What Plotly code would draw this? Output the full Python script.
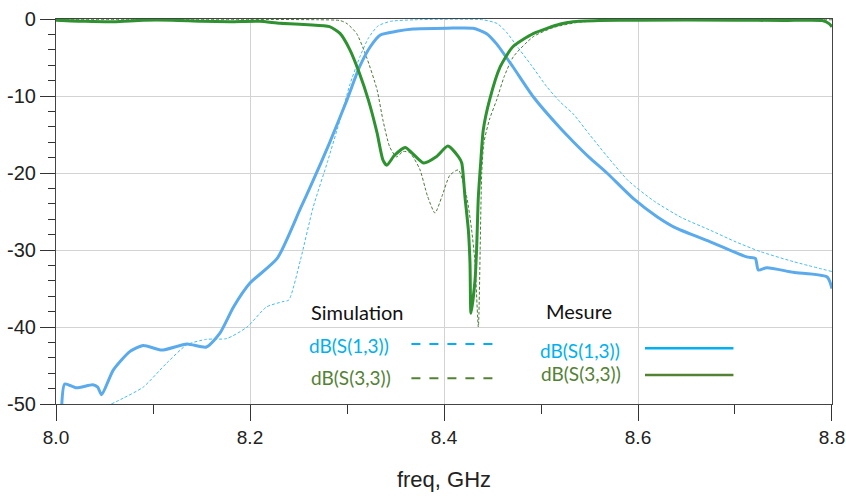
import plotly.graph_objects as go

# ---------------- data ----------------
meas_s13_f = [8.006, 8.009, 8.021, 8.038, 8.043, 8.047, 8.059, 8.076, 8.090, 8.109, 8.135, 8.155,
              8.169, 8.183, 8.200, 8.228, 8.252, 8.265, 8.282, 8.300, 8.313, 8.324, 8.334, 8.351,
              8.368, 8.403, 8.430, 8.444, 8.454, 8.471, 8.492, 8.520, 8.533, 8.550, 8.568, 8.595,
              8.620, 8.640, 8.674, 8.712, 8.721, 8.724, 8.733, 8.760, 8.795, 8.800]
meas_s13_db = [-50.0, -47.4, -47.9, -47.5, -47.8, -48.8, -45.6, -43.2, -42.4, -43.0, -42.2, -42.6,
               -40.8, -37.4, -34.3, -31.1, -24.6, -21.0, -16.1, -10.5, -6.2, -3.6, -2.1, -1.6,
               -1.3, -1.2, -1.2, -1.9, -3.2, -6.2, -10.1, -14.2, -15.9, -18.0, -20.0, -23.3,
               -25.7, -27.2, -28.9, -30.9, -31.1, -32.6, -32.3, -32.9, -33.5, -35.0]

sim_s13_f = [8.057, 8.070, 8.090, 8.114, 8.135, 8.155, 8.176, 8.197, 8.217, 8.234, 8.240, 8.252,
             8.265, 8.280, 8.293, 8.303, 8.313, 8.322, 8.332, 8.345, 8.370, 8.440, 8.455, 8.465,
             8.475, 8.490, 8.506, 8.520, 8.533, 8.550, 8.568, 8.590, 8.616, 8.645, 8.674, 8.700,
             8.726, 8.760, 8.800]
sim_s13_db = [-50.0, -49.2, -47.8, -44.7, -42.3, -41.6, -41.5, -40.0, -37.4, -36.7, -36.5, -31.3,
              -24.5, -18.5, -13.0, -8.5, -5.0, -2.5, -0.9, -0.3, -0.1, -0.1, -0.6, -1.8,
              -3.5, -6.0, -8.8, -10.8, -12.3, -15.0, -17.8, -21.0, -23.6, -25.8, -27.4, -28.9,
              -30.2, -31.5, -32.8]

meas_s33_f = [8.000, 8.030, 8.060, 8.090, 8.120, 8.150, 8.180, 8.210, 8.231, 8.260, 8.282, 8.293,
              8.303, 8.313, 8.322, 8.331, 8.337, 8.341, 8.349, 8.360, 8.367, 8.379, 8.392, 8.404,
              8.415, 8.4183, 8.4216, 8.4251, 8.4268, 8.4278, 8.4320, 8.4337, 8.4354, 8.4378,
              8.4405, 8.447, 8.458, 8.471, 8.492, 8.520, 8.533, 8.560, 8.600, 8.700, 8.750,
              8.790, 8.797, 8.800]
meas_s33_db = [-0.15, -0.3, -0.35, -0.15, -0.15, -0.3, -0.35, -0.3, -0.56, -0.75, -1.0, -1.9,
               -4.0, -7.1, -10.5, -14.8, -18.3, -19.0, -17.7, -16.7, -17.4, -18.7, -17.9, -16.5,
               -17.9, -18.7, -23.1, -27.4, -31.7, -38.2, -33.9, -29.6, -23.1, -18.7,
               -14.4, -10.5, -6.2, -3.6, -1.9, -0.65, -0.35, -0.2, -0.15, -0.15, -0.2,
               -0.2, -0.6, -1.0]

sim_s33_f = [8.000, 8.200, 8.270, 8.293, 8.300, 8.310, 8.320, 8.331, 8.337, 8.344, 8.351, 8.358,
             8.365, 8.375, 8.383, 8.3907, 8.398, 8.406, 8.4148, 8.4234, 8.4285, 8.432, 8.4354,
             8.4389, 8.4412, 8.447, 8.4543, 8.462, 8.4715, 8.492, 8.513, 8.540, 8.580, 8.800]
sim_s33_db = [-0.05, -0.05, -0.1, -0.2, -0.6, -1.9, -4.9, -9.2, -13.1, -16.6, -17.9, -17.2,
              -17.4, -19.5, -23.0, -25.2, -23.0, -20.3, -19.6, -23.1, -27.4, -31.7, -40.0,
              -20.0, -16.0, -13.0, -10.5, -7.5, -4.9, -2.3, -1.1, -0.4, -0.15, -0.1]

x_tickvals = [8.0, 8.2, 8.4, 8.6, 8.8]
x_ticktext = ["8.0", "8.2", "8.4", "8.6", "8.8"]
y_tickvals = [0, -10, -20, -30, -40, -50]
y_ticktext = ["0", "-10", "-20", "-30", "-40", "-50"]

# ---------------- styles ----------------
C_MEAS13 = "#5AAAEC"
C_SIM13 = "#45BDEE"
C_MEAS33 = "#2F9230"
C_SIM33 = "#4B7A3A"
C_TXT13 = "#00B0F0"
C_TXT33 = "#548235"

fig = go.Figure()
fig.add_trace(go.Scatter(x=sim_s13_f, y=sim_s13_db, mode="lines",
                         line=dict(color=C_SIM13, width=1, dash="3px,2px", shape="spline", smoothing=0.6)))
fig.add_trace(go.Scatter(x=sim_s33_f, y=sim_s33_db, mode="lines",
                         line=dict(color=C_SIM33, width=1, dash="3px,2px", shape="spline", smoothing=0.6)))
fig.add_trace(go.Scatter(x=meas_s13_f, y=meas_s13_db, mode="lines",
                         line=dict(color=C_MEAS13, width=3, shape="spline", smoothing=0.6)))
fig.add_trace(go.Scatter(x=meas_s33_f, y=meas_s33_db, mode="lines",
                         line=dict(color=C_MEAS33, width=3, shape="spline", smoothing=0.6)))

axis_font = dict(family="Arial, Liberation Sans", size=20, color="#222222")

fig.update_xaxes(range=[7.99999, 8.80001], tickvals=x_tickvals, ticktext=x_ticktext, automargin=False,
                 tickfont=dict(family="Liberation Sans Narrow, Arial Narrow, Arial", size=19, color="#222222"),
                 ticks="outside", ticklen=16, tickcolor="#333333", tickwidth=1,
                 minor=dict(dtick=0.1, tick0=8.0, ticks="outside", ticklen=9, tickcolor="#333333", showgrid=False),
                 showgrid=True, gridcolor="#D3D3D3", gridwidth=1.2,
                 showline=True, linecolor="#444444", linewidth=1.2, mirror=True, zeroline=False,
                 title=dict(text="freq, GHz", font=dict(family="Arial, Liberation Sans", size=22, color="#222222"),
                            standoff=24))
fig.update_yaxes(range=[-50, 0], tickvals=y_tickvals, ticktext=y_ticktext, tickfont=axis_font, automargin=False,
                 ticks="outside", ticklen=15, tickcolor="#333333", tickwidth=1,
                 minor=dict(dtick=2, tick0=0, ticks="outside", ticklen=7, tickcolor="#333333", showgrid=False),
                 showgrid=True, gridcolor="#D3D3D3", gridwidth=1.2,
                 showline=True, linecolor="#444444", linewidth=1.2, mirror=True, zeroline=False)

# ---------------- legend built from text + sample lines ----------------
lfont = "Lato, Open Sans, sans-serif"
ann = [
    ("Simulation", 0.3885, 0.2397, "#111111", 20),
    ("dB(S(1,3))", 0.378, 0.153, C_TXT13, 19),
    ("dB(S(3,3))", 0.3805, 0.069, C_TXT33, 19),
    ("Mesure", 0.6742, 0.2423, "#111111", 20),
    ("dB(S(1,3))", 0.675, 0.139, C_TXT13, 19),
    ("dB(S(3,3))", 0.6763, 0.080, C_TXT33, 19),
]
for t, xp, yp, c, s in ann:
    fig.add_annotation(text=t, x=xp, y=yp, xref="paper", yref="paper", showarrow=False,
                       xanchor="center", yanchor="middle", font=dict(family=lfont, size=s, color=c))

samples = [
    (0.458, 0.571, 0.156, C_TXT13, "dash", 2),
    (0.458, 0.571, 0.0668, C_TXT33, "dash", 2),
    (0.759, 0.873, 0.1447, C_TXT13, "solid", 2.5),
    (0.759, 0.873, 0.0753, C_TXT33, "solid", 2.5),
]
for x0, x1, yp, c, d, w in samples:
    fig.add_shape(type="line", xref="paper", yref="paper", x0=x0, x1=x1, y0=yp, y1=yp,
                  line=dict(color=c, width=w, dash=d))

fig.update_layout(width=846, height=496, showlegend=False,
                  margin=dict(l=56, r=14, t=19, b=92, autoexpand=False),
                  plot_bgcolor="white", paper_bgcolor="white")

# remove the default 8px page margin so the figure fills the window exactly
fig.write_html("out.html", config={"displayModeBar": False},
               post_script="document.body.style.margin='0';document.body.style.overflow='hidden';")
